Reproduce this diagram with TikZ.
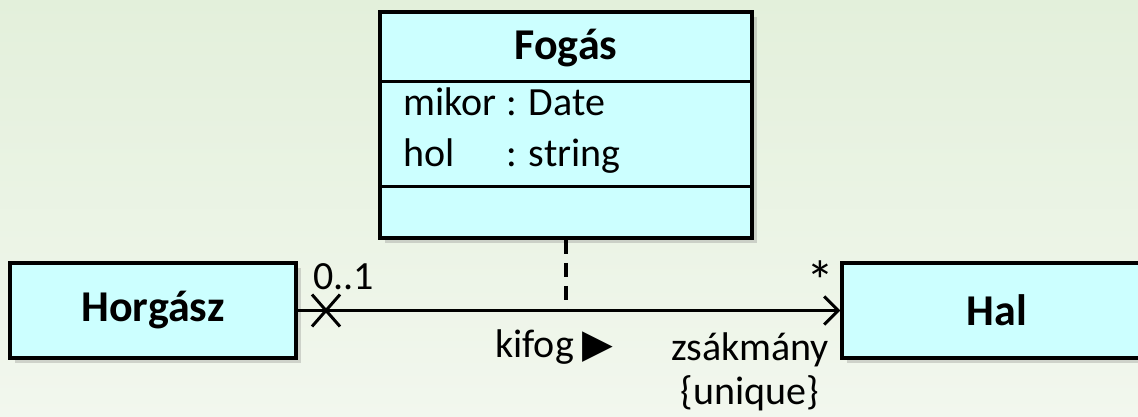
\documentclass[tikz,border=0pt]{standalone}
\usepackage{fontspec}
\setmainfont{Carlito}
\newfontfamily\symbfont{DejaVu Sans}
\usetikzlibrary{arrows.meta,shadows}
\definecolor{fondA}{RGB}{227,240,219}
\definecolor{fondB}{RGB}{242,247,238}
\definecolor{classe}{RGB}{204,255,255}

\begin{document}
\begin{tikzpicture}[x=1pt, y=-1pt,
    >={Straight Barb[length=14pt, width=28pt, line width=3pt]},
    classe/.style={draw, line width=3.5pt, fill=classe, inner sep=0pt,
        drop shadow={shadow xshift=5pt, shadow yshift=-5pt, opacity=.3},
        font=\fontsize{44}{50}\selectfont\bfseries},
    titre/.style={inner sep=0pt, font=\fontsize{44}{50}\selectfont\bfseries},
    txt/.style={inner sep=0pt, font=\fontsize{40}{48}\selectfont}]

    \useasboundingbox (0,0) rectangle (1138,417);

    % fond
    \shade[top color=fondA, bottom color=fondB] (0,0) rectangle (1138,417);

    % classes
    \node[classe, minimum width=286pt, minimum height=95pt] (horgasz) at (153,310.5) {Horgász};
    \node[classe, minimum width=310pt, minimum height=95pt] (hal) at (997,310.5) {Hal};
    \node[classe, minimum width=372pt, minimum height=226pt] (fogas) at (566,125) {};
    \node[titre, anchor=base] (fogasnev) at (566,60) {Fogás};

    % compartiments
    \draw[line width=3pt] ([yshift=-71pt]fogas.north west) -- ([yshift=-71pt]fogas.north east);
    \draw[line width=3pt] ([yshift=-176pt]fogas.north west) -- ([yshift=-176pt]fogas.north east);

    % attributs
    \node[txt, anchor=base west] (mikor) at (403,116) {mikor};
    \node[txt, anchor=base west] (mikortip) at (506,116) {: Date};
    \node[txt, anchor=base west] (hol) at (403,167) {hol};
    \node[txt, anchor=base west] (holtip) at (506,167) {: string};

    % association
    \draw[line width=3pt, ->] (horgasz.east) -- (hal.west);
    \coordinate (croix) at (326,310.5);
    \draw[line width=3pt] (croix) +(-14,-16) -- +(14,16)
        (croix) +(-14,16) -- +(14,-16);

    % classe d'association
    \coordinate (pied) at (fogas.south |- horgasz.east);
    \draw[line width=3.5pt, dash pattern=on 14pt off 9pt] (fogas.south) -- (pied);

    % etiquettes
    \node[txt, anchor=base west] (mult1) at (313,289) {0..1};
    \node[txt, anchor=base, font=\fontsize{56}{60}\selectfont] (multn) at (820,300) {*};
    \node[txt, anchor=base west] (kifog) at (495,357) {kifog {\symbfont\fontsize{40}{44}\selectfont ▶}};
    \node[txt, anchor=base] (szerep) at (750,360) {zsákmány};
    \node[txt, anchor=base] (unique) at (750,404) {\{unique\}};

\end{tikzpicture}
\end{document}
